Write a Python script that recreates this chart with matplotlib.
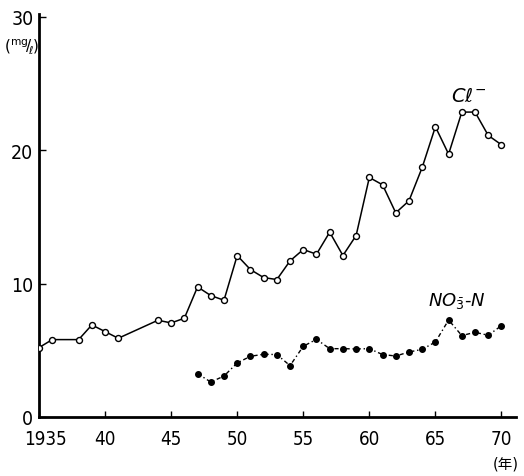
import matplotlib
matplotlib.use("Agg")
import matplotlib.pyplot as plt
import matplotlib.transforms as mtransforms

cl_years = [1935, 1936, 1938, 1939, 1940, 1941, 1944, 1945, 1946, 1947, 1948, 1949,
            1950, 1951, 1952, 1953, 1954, 1955, 1956, 1957, 1958, 1959, 1960, 1961,
            1962, 1963, 1964, 1965, 1966, 1967, 1968, 1969, 1970]
cl_values = [5.2, 5.8, 5.8, 6.9, 6.4, 5.9, 7.25, 7.05, 7.4, 9.75, 9.1, 8.75,
             12.1, 11.05, 10.45, 10.3, 11.7, 12.55, 12.2, 13.85, 12.1, 13.6, 17.95, 17.4,
             15.3, 16.2, 18.7, 21.75, 19.7, 22.85, 22.85, 21.1, 20.4]

no3_years = [1947, 1948, 1949, 1950, 1951, 1952, 1953, 1954, 1955, 1956, 1957, 1958,
             1959, 1960, 1961, 1962, 1963, 1964, 1965, 1966, 1967, 1968, 1969, 1970]
no3_values = [3.25, 2.62, 3.07, 4.05, 4.55, 4.7, 4.68, 3.85, 5.3, 5.82, 5.12, 5.12,
              5.1, 5.12, 4.68, 4.57, 4.87, 5.07, 5.62, 7.27, 6.1, 6.35, 6.12, 6.85]

x_ticks = [1935, 1940, 1945, 1950, 1955, 1960, 1965, 1970]
x_ticklabels = ["1935", "40", "45", "50", "55", "60", "65", "70"]
y_ticks = [0, 10, 20, 30]

plt.rcParams['font.family'] = ['DejaVu Sans', 'Noto Sans CJK JP']

fig = plt.figure(figsize=(5.24, 4.77), dpi=100)
ax = fig.add_axes([39/524, 59/477, 477/524, 403/477])

ax.plot(cl_years, cl_values, color='black', lw=1.1, marker='o', markersize=4.3,
        markerfacecolor='white', markeredgecolor='black', markeredgewidth=1.0, zorder=3)
ax.plot(no3_years, no3_values, color='black', lw=1.0, linestyle=(0, (3, 2, 1, 2)),
        marker='o', markersize=4.0, markerfacecolor='black', markeredgecolor='black', zorder=3)

ax.set_xlim(1935, 1971.1)
ax.set_ylim(0, 30.2)
for s in ['top', 'right']:
    ax.spines[s].set_visible(False)
ax.spines['left'].set_linewidth(2.0)
ax.spines['bottom'].set_linewidth(2.0)

ax.set_xticks(x_ticks)
ax.set_xticklabels(x_ticklabels, fontsize=13.5, fontstretch='condensed')
ax.set_yticks(y_ticks)
ax.set_yticklabels([str(v) for v in y_ticks], fontsize=14, fontstretch='condensed')
ax.tick_params(axis='x', direction='in', length=4, width=1, pad=9)
ax.tick_params(axis='y', direction='in', length=5, width=1, pad=4)

# shift "1935" label to the right like in the original
lbl = ax.get_xticklabels()[0]
lbl.set_transform(lbl.get_transform() + mtransforms.ScaledTranslation(0.07, 0, fig.dpi_scale_trans))

fig.text(22/524, 1 - 46/477, r'$(^{\mathrm{mg}}\!/\!_{\ell})$', fontsize=11, ha='center', va='center')
fig.text(506/524, 1 - 464/477, '(年)', fontsize=10.5, ha='center', va='center')
ax.text(1967.5, 24.1, r'$C\ell^{-}$', fontsize=14, ha='center', va='center')
ax.text(1966.6, 8.8, r'$NO_{\bar{3}}$-$N$', fontsize=13, ha='center', va='center')

fig.savefig('out.png', dpi=100)
